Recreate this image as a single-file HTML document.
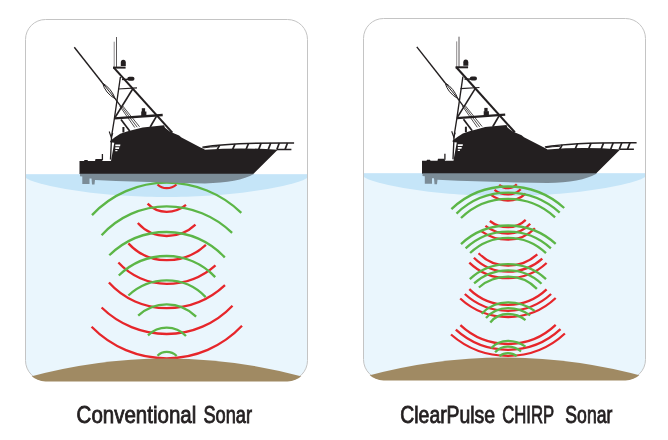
<!DOCTYPE html>
<html><head><meta charset="utf-8"><style>
html,body{margin:0;padding:0;background:#fff;width:668px;height:440px;overflow:hidden;}
.wrap{position:relative;width:668px;height:440px;}
svg{position:absolute;left:0;top:0;will-change:transform;}
</style></head><body><div class="wrap">
<svg width="668" height="440" viewBox="0 0 668 440"><rect width="668" height="440" fill="#fff"/><g><clipPath id="c25"><rect x="25.5" y="19.5" width="282" height="361" rx="20" ry="20"/></clipPath><g clip-path="url(#c25)"><rect x="25" y="174.2" width="283" height="206.8" fill="#eaf6fd"/><path d="M25 174.2 L308 174.2 L308 177.5 L302.95 180.16 L297.89 181.91 L292.84 183.39 L287.79 184.71 L282.73 185.9 L277.68 186.99 L272.62 187.99 L267.57 188.92 L262.52 189.78 L257.46 190.57 L252.41 191.31 L247.36 192 L242.3 192.63 L237.25 193.22 L232.2 193.75 L227.14 194.25 L222.09 194.7 L217.04 195.1 L211.98 195.47 L206.93 195.79 L201.88 196.08 L196.82 196.32 L191.77 196.53 L186.71 196.7 L181.66 196.83 L176.61 196.93 L171.55 196.98 L166.5 197 L161.45 196.98 L156.39 196.93 L151.34 196.83 L146.29 196.7 L141.23 196.53 L136.18 196.32 L131.12 196.08 L126.07 195.79 L121.02 195.47 L115.96 195.1 L110.91 194.7 L105.86 194.25 L100.8 193.75 L95.75 193.22 L90.7 192.63 L85.64 192 L80.59 191.31 L75.54 190.57 L70.48 189.78 L65.43 188.92 L60.38 187.99 L55.32 186.99 L50.27 185.9 L45.21 184.71 L40.16 183.39 L35.11 181.91 L30.05 180.16 L25 177.5 Z" fill="#c5e5f8"/><path d="M157.5 184.5 A13.29 13.29 0 0 0 166.7 188.2 A14.83 14.83 0 0 0 176.5 184.5" stroke="#e6262b" stroke-width="2.3" fill="none"/><path d="M147.6 203.6 A26.34 26.34 0 0 0 166.7 211.8 A30.44 30.44 0 0 0 186 204.9" stroke="#e6262b" stroke-width="2.3" fill="none"/><path d="M137.8 223.1 A38.82 38.82 0 0 0 166.7 236 A42.08 42.08 0 0 0 195.5 224.6" stroke="#e6262b" stroke-width="2.3" fill="none"/><path d="M128.4 243.4 A52.06 52.06 0 0 0 166.7 260.2 A57.59 57.59 0 0 0 205.9 244.8" stroke="#e6262b" stroke-width="2.3" fill="none"/><path d="M118.4 262.5 A65.41 65.41 0 0 0 166.7 283.8 A73.61 73.61 0 0 0 215.5 265.3" stroke="#e6262b" stroke-width="2.3" fill="none"/><path d="M108.9 282.5 A77.85 77.85 0 0 0 166.7 308.2 A85.39 85.39 0 0 0 225 285.2" stroke="#e6262b" stroke-width="2.3" fill="none"/><path d="M101.6 307.5 A93.21 93.21 0 0 0 166.7 334 A90.65 90.65 0 0 0 232.5 305.7" stroke="#e6262b" stroke-width="2.3" fill="none"/><path d="M91.6 326.7 A105.04 105.04 0 0 0 166.7 358.3 A103.48 103.48 0 0 0 242 325.8" stroke="#e6262b" stroke-width="2.3" fill="none"/><path d="M92 215.1 A102.31 102.31 0 0 1 166.7 182.7 A107.24 107.24 0 0 1 241.3 212.9" stroke="#5cb647" stroke-width="2.3" fill="none"/><path d="M101.6 235.2 A87.77 87.77 0 0 1 166.7 206.3 A93.7 93.7 0 0 1 232.1 232.9" stroke="#5cb647" stroke-width="2.3" fill="none"/><path d="M109.3 255.3 A82.35 82.35 0 0 1 166.7 232 A78.94 78.94 0 0 1 224.8 257.5" stroke="#5cb647" stroke-width="2.3" fill="none"/><path d="M118.8 275.5 A68.58 68.58 0 0 1 166.7 256 A66.29 66.29 0 0 1 215.2 277.1" stroke="#5cb647" stroke-width="2.3" fill="none"/><path d="M128.4 295.5 A56.12 56.12 0 0 1 166.7 280.4 A53.89 53.89 0 0 1 205.7 297.1" stroke="#5cb647" stroke-width="2.3" fill="none"/><path d="M138.2 315.7 A41.33 41.33 0 0 1 166.7 304.3 A41.29 41.29 0 0 1 196.1 316.6" stroke="#5cb647" stroke-width="2.3" fill="none"/><path d="M148 335.4 A26.56 26.56 0 0 1 166.7 327.7 A26.59 26.59 0 0 1 186 336" stroke="#5cb647" stroke-width="2.3" fill="none"/><path d="M157.5 355.7 A13.04 13.04 0 0 1 166.7 351.9 A14.25 14.25 0 0 1 176.7 356" stroke="#5cb647" stroke-width="2.3" fill="none"/></g><rect x="25.5" y="19.5" width="282" height="361" rx="20" ry="20" fill="none" stroke="#c4c4c4" stroke-width="1"/><clipPath id="d25"><rect x="25" y="19" width="283" height="362.4" rx="20.5" ry="20.5"/></clipPath><path clip-path="url(#d25)" d="M25 378 Q166 339 308 378 L308 382 L25 382 Z" fill="#a08a63"/><g transform="translate(0 0)"><path fill="#231f20" d="M79.5 174 L79.5 161 L84 161 L84.5 160 L87.5 160 L88 161 L95 161 L95.5 159 L102 159 L102.5 161 L111 161 L111.6 157.4 L114.3 142.7 L110.2 142.3 L110.2 140.9 L114.9 137.3 L120.3 133.7 L127 131.5 L133.7 129.7 L142.7 127.4 L164 125.3 L165 127.8 L169.5 131.3 L172 132.5 L179.1 135.6 L181.5 137.5 L200.5 147.4 L203 148.6 L205 149.8 Q241 147 277.7 149.8 L253.3 174 Z"/><path fill="#fff" d="M115.3 144.5 L120.4 144.5 L120.1 146.2 L115.3 146.2 Z M115.3 147.3 L119.3 147.3 L119 149 L115.3 149 Z M115.3 150 L117.6 150 L117.3 151.3 L115.3 151.3 Z"/><path fill="#7b8c97" d="M80 173.8 L80 176.3 L82.3 176.5 L82.3 184.1 L89.5 184.1 L89.5 178.5 L91.5 178.5 L92 184.5 L94.5 184.5 L95 180 L116 181 L175 182.8 L205 183.4 Q238 183 254.5 173.8 Z"/><line x1="116.5" y1="37" x2="116.5" y2="67.5" stroke="#4a4647" stroke-width="0.9"/><line x1="114.2" y1="41.7" x2="114.2" y2="67.5" stroke="#6a6667" stroke-width="0.75"/><path fill="#231f20" d="M120.8 66 L120.8 62.6 Q120.8 59.7 123.3 59.7 Q125.8 59.7 125.8 62.6 L125.8 66 Z"/><line x1="113" y1="67.6" x2="125.6" y2="67.6" stroke="#231f20" stroke-width="2"/><line x1="113.8" y1="67.6" x2="172.3" y2="132.6" stroke="#231f20" stroke-width="2.1"/><line x1="122" y1="79.4" x2="129" y2="79.4" stroke="#231f20" stroke-width="1.5"/><rect x="127.3" y="76.7" width="7.2" height="4" rx="2" fill="#231f20"/><path d="M120.4 77 L114.1 120.5 L111.6 136 L110.5 159.5" stroke="#231f20" stroke-width="1.35" fill="none"/><path d="M109.2 131.5 L111.3 137.5 L112.8 133" stroke="#231f20" stroke-width="1.1" fill="none"/><line x1="118" y1="89" x2="137" y2="87.8" stroke="#231f20" stroke-width="1.2"/><line x1="133" y1="88.5" x2="115" y2="117.5" stroke="#231f20" stroke-width="1.6"/><line x1="114.4" y1="118.4" x2="162.7" y2="115" stroke="#231f20" stroke-width="2.3"/><rect x="141.8" y="108.2" width="3.3" height="3.8" fill="#231f20"/><rect x="141.2" y="111.5" width="5.2" height="5" fill="#231f20"/><line x1="156.4" y1="116.4" x2="150.2" y2="127" stroke="#231f20" stroke-width="1.7"/><line x1="121" y1="119.5" x2="129.7" y2="131" stroke="#231f20" stroke-width="1.7"/><line x1="74.3" y1="47.2" x2="102.5" y2="83" stroke="#231f20" stroke-width="1.4"/><path d="M102.5 83 L115.3 98.9 M102.5 83 Q111.5 88.6 115.3 98.9 M102.5 83 Q105.2 93 115.3 98.9" stroke="#231f20" stroke-width="1.0" fill="none"/><line x1="115.3" y1="98.9" x2="121" y2="106.7" stroke="#231f20" stroke-width="1.3"/><path d="M119.8 106.2 L134.8 127.6 M121.2 106 L137.2 127.2 M122.6 105.8 L139.6 126.8" stroke="#231f20" stroke-width="0.8" fill="none"/><line x1="123.4" y1="127" x2="123.4" y2="132.5" stroke="#231f20" stroke-width="2"/><line x1="102.4" y1="154" x2="102.4" y2="160" stroke="#231f20" stroke-width="1.3"/><path d="M202.4 147.2 Q230 142.6 294.1 143" stroke="#231f20" stroke-width="1.5" fill="none"/><line x1="217.2" y1="149.6" x2="219.7" y2="145.1" stroke="#231f20" stroke-width="1.7"/><line x1="232.5" y1="149.6" x2="235" y2="144.05" stroke="#231f20" stroke-width="1.7"/><line x1="246" y1="149.6" x2="248.5" y2="143.49" stroke="#231f20" stroke-width="1.7"/><line x1="258.6" y1="149.6" x2="261.1" y2="143.17" stroke="#231f20" stroke-width="1.7"/><line x1="268.2" y1="149.6" x2="270.7" y2="143.03" stroke="#231f20" stroke-width="1.7"/><line x1="276.8" y1="149.6" x2="279.3" y2="142.98" stroke="#231f20" stroke-width="1.7"/><line x1="285" y1="149.6" x2="287.5" y2="142.97" stroke="#231f20" stroke-width="1.7"/><line x1="277" y1="149.6" x2="291.4" y2="149.5" stroke="#231f20" stroke-width="1.5"/><path d="M203.5 147.9 Q210 146.8 217.6 146.6" stroke="#231f20" stroke-width="1.0" fill="none"/></g></g><g><clipPath id="c363"><rect x="363.5" y="18.5" width="282" height="361" rx="20" ry="20"/></clipPath><g clip-path="url(#c363)"><rect x="363" y="173.2" width="283" height="206.8" fill="#eaf6fd"/><path d="M363 173.2 L646 173.2 L646 176.5 L640.95 179.16 L635.89 180.91 L630.84 182.39 L625.79 183.71 L620.73 184.9 L615.68 185.99 L610.62 186.99 L605.57 187.92 L600.52 188.78 L595.46 189.57 L590.41 190.31 L585.36 191 L580.3 191.63 L575.25 192.22 L570.2 192.75 L565.14 193.25 L560.09 193.7 L555.04 194.1 L549.98 194.47 L544.93 194.79 L539.88 195.08 L534.82 195.32 L529.77 195.53 L524.71 195.7 L519.66 195.83 L514.61 195.93 L509.55 195.98 L504.5 196 L499.45 195.98 L494.39 195.93 L489.34 195.83 L484.29 195.7 L479.23 195.53 L474.18 195.32 L469.12 195.08 L464.07 194.79 L459.02 194.47 L453.96 194.1 L448.91 193.7 L443.86 193.25 L438.8 192.75 L433.75 192.22 L428.7 191.63 L423.64 191 L418.59 190.31 L413.54 189.57 L408.48 188.78 L403.43 187.92 L398.38 186.99 L393.32 185.99 L388.27 184.9 L383.21 183.71 L378.16 182.39 L373.11 180.91 L368.05 179.16 L363 176.5 Z" fill="#c5e5f8"/><path d="M499.1 185 A13.98 13.98 0 0 0 508 188.2 A11.88 11.88 0 0 0 516.8 184.3" stroke="#e6262b" stroke-width="2.3" fill="none"/><path d="M494.5 189.8 A22.11 22.11 0 0 0 508 194.4 A18.11 18.11 0 0 0 520.7 189.2" stroke="#e6262b" stroke-width="2.3" fill="none"/><path d="M490.6 194.6 A28.61 28.61 0 0 0 508 200.5 A25.9 25.9 0 0 0 525.6 193.6" stroke="#e6262b" stroke-width="2.3" fill="none"/><path d="M489.8 221 A29.81 29.81 0 0 0 508 227.2 A25.11 25.11 0 0 0 525.7 219.9" stroke="#e6262b" stroke-width="2.3" fill="none"/><path d="M485.4 225.8 A37.02 37.02 0 0 0 508 233.5 A30.04 30.04 0 0 0 530.2 223.7" stroke="#e6262b" stroke-width="2.3" fill="none"/><path d="M481.2 231.1 A46.06 46.06 0 0 0 508 239.7 A37.21 37.21 0 0 0 534.9 228.2" stroke="#e6262b" stroke-width="2.3" fill="none"/><path d="M478.6 253.2 A41.05 41.05 0 0 0 508 265.6 A43.64 43.64 0 0 0 537.3 254.3" stroke="#e6262b" stroke-width="2.3" fill="none"/><path d="M473.9 257.7 A48.53 48.53 0 0 0 508 271.7 A51.45 51.45 0 0 0 542.3 258.6" stroke="#e6262b" stroke-width="2.3" fill="none"/><path d="M469.3 262.6 A55.8 55.8 0 0 0 508 278.2 A56.61 56.61 0 0 0 546.6 263" stroke="#e6262b" stroke-width="2.3" fill="none"/><path d="M469.3 289.1 A55.55 55.55 0 0 0 508 304.8 A56.08 56.08 0 0 0 546.6 289.4" stroke="#e6262b" stroke-width="2.3" fill="none"/><path d="M464.8 294 A63.94 63.94 0 0 0 508 310.8 A63.69 63.69 0 0 0 551.1 294" stroke="#e6262b" stroke-width="2.3" fill="none"/><path d="M460.2 298.5 A71 71 0 0 0 508 317 A69.38 69.38 0 0 0 555.7 298" stroke="#e6262b" stroke-width="2.3" fill="none"/><path d="M460.4 325.2 A69.66 69.66 0 0 0 508 344 A69.11 69.11 0 0 0 555.7 324.9" stroke="#e6262b" stroke-width="2.3" fill="none"/><path d="M455.8 329.7 A77.83 77.83 0 0 0 508 349.8 A77.2 77.2 0 0 0 560.5 329.2" stroke="#e6262b" stroke-width="2.3" fill="none"/><path d="M451 334.5 A86.61 86.61 0 0 0 508 355.9 A83.47 83.47 0 0 0 564.9 333.5" stroke="#e6262b" stroke-width="2.3" fill="none"/><path d="M451.4 209.1 A82.18 82.18 0 0 1 508 186.5 A84.2 84.2 0 0 1 564.2 208" stroke="#5cb647" stroke-width="2.3" fill="none"/><path d="M456.5 213.6 A73.9 73.9 0 0 1 508 192.7 A76.82 76.82 0 0 1 559.7 212.7" stroke="#5cb647" stroke-width="2.3" fill="none"/><path d="M461 218 A67.13 67.13 0 0 1 508 198.8 A69.21 69.21 0 0 1 555.1 217.3" stroke="#5cb647" stroke-width="2.3" fill="none"/><path d="M461 244.1 A68.68 68.68 0 0 1 508 225.5 A71.03 71.03 0 0 1 555.7 243.9" stroke="#5cb647" stroke-width="2.3" fill="none"/><path d="M465.6 248.4 A61.9 61.9 0 0 1 508 231.6 A63.17 63.17 0 0 1 550.9 248.4" stroke="#5cb647" stroke-width="2.3" fill="none"/><path d="M470.1 253 A54.85 54.85 0 0 1 508 237.8 A54.58 54.58 0 0 1 546 253.2" stroke="#5cb647" stroke-width="2.3" fill="none"/><path d="M469.8 279.2 A56.14 56.14 0 0 1 508 264.2 A55.63 55.63 0 0 1 546 279.2" stroke="#5cb647" stroke-width="2.3" fill="none"/><path d="M474.1 283.4 A50.41 50.41 0 0 1 508 270.3 A48.44 48.44 0 0 1 541.5 283.75" stroke="#5cb647" stroke-width="2.3" fill="none"/><path d="M478.9 287.5 A44.6 44.6 0 0 1 508 276.7 A40.33 40.33 0 0 1 536.9 288.9" stroke="#5cb647" stroke-width="2.3" fill="none"/><path d="M481.6 313.8 A36.27 36.27 0 0 1 508 302.4 A46.18 46.18 0 0 1 534.7 310.9" stroke="#5cb647" stroke-width="2.3" fill="none"/><path d="M486 318.1 A29.39 29.39 0 0 1 508 308.2 A37.83 37.83 0 0 1 530.2 315.4" stroke="#5cb647" stroke-width="2.3" fill="none"/><path d="M490.3 322.4 A22.85 22.85 0 0 1 508 314 A28.15 28.15 0 0 1 525.5 320.1" stroke="#5cb647" stroke-width="2.3" fill="none"/><path d="M491.1 348.3 A23 23 0 0 1 508 340.9 A29.3 29.3 0 0 1 525.5 346.7" stroke="#5cb647" stroke-width="2.3" fill="none"/><path d="M495.1 352.3 A17.66 17.66 0 0 1 508 346.7 A20 20 0 0 1 521 351.5" stroke="#5cb647" stroke-width="2.3" fill="none"/><path d="M499.4 356.2 A13.83 13.83 0 0 1 508 353.2 A14.12 14.12 0 0 1 516.7 356.2" stroke="#5cb647" stroke-width="2.3" fill="none"/></g><rect x="363.5" y="18.5" width="282" height="361" rx="20" ry="20" fill="none" stroke="#c4c4c4" stroke-width="1"/><clipPath id="d363"><rect x="363" y="18" width="283" height="362.4" rx="20.5" ry="20.5"/></clipPath><path clip-path="url(#d363)" d="M363 377 Q504 338 646 377 L646 381 L363 381 Z" fill="#a08a63"/><g transform="translate(342.5 -0.3)"><path fill="#231f20" d="M79.5 174 L79.5 161 L84 161 L84.5 160 L87.5 160 L88 161 L95 161 L95.5 159 L102 159 L102.5 161 L111 161 L111.6 157.4 L114.3 142.7 L110.2 142.3 L110.2 140.9 L114.9 137.3 L120.3 133.7 L127 131.5 L133.7 129.7 L142.7 127.4 L164 125.3 L165 127.8 L169.5 131.3 L172 132.5 L179.1 135.6 L181.5 137.5 L200.5 147.4 L203 148.6 L205 149.8 Q241 147 277.7 149.8 L253.3 174 Z"/><path fill="#fff" d="M115.3 144.5 L120.4 144.5 L120.1 146.2 L115.3 146.2 Z M115.3 147.3 L119.3 147.3 L119 149 L115.3 149 Z M115.3 150 L117.6 150 L117.3 151.3 L115.3 151.3 Z"/><path fill="#7b8c97" d="M80 173.8 L80 176.3 L82.3 176.5 L82.3 184.1 L89.5 184.1 L89.5 178.5 L91.5 178.5 L92 184.5 L94.5 184.5 L95 180 L116 181 L175 182.8 L205 183.4 Q238 183 254.5 173.8 Z"/><line x1="116.5" y1="37" x2="116.5" y2="67.5" stroke="#4a4647" stroke-width="0.9"/><line x1="114.2" y1="41.7" x2="114.2" y2="67.5" stroke="#6a6667" stroke-width="0.75"/><path fill="#231f20" d="M120.8 66 L120.8 62.6 Q120.8 59.7 123.3 59.7 Q125.8 59.7 125.8 62.6 L125.8 66 Z"/><line x1="113" y1="67.6" x2="125.6" y2="67.6" stroke="#231f20" stroke-width="2"/><line x1="113.8" y1="67.6" x2="172.3" y2="132.6" stroke="#231f20" stroke-width="2.1"/><line x1="122" y1="79.4" x2="129" y2="79.4" stroke="#231f20" stroke-width="1.5"/><rect x="127.3" y="76.7" width="7.2" height="4" rx="2" fill="#231f20"/><path d="M120.4 77 L114.1 120.5 L111.6 136 L110.5 159.5" stroke="#231f20" stroke-width="1.35" fill="none"/><path d="M109.2 131.5 L111.3 137.5 L112.8 133" stroke="#231f20" stroke-width="1.1" fill="none"/><line x1="118" y1="89" x2="137" y2="87.8" stroke="#231f20" stroke-width="1.2"/><line x1="133" y1="88.5" x2="115" y2="117.5" stroke="#231f20" stroke-width="1.6"/><line x1="114.4" y1="118.4" x2="162.7" y2="115" stroke="#231f20" stroke-width="2.3"/><rect x="141.8" y="108.2" width="3.3" height="3.8" fill="#231f20"/><rect x="141.2" y="111.5" width="5.2" height="5" fill="#231f20"/><line x1="156.4" y1="116.4" x2="150.2" y2="127" stroke="#231f20" stroke-width="1.7"/><line x1="121" y1="119.5" x2="129.7" y2="131" stroke="#231f20" stroke-width="1.7"/><line x1="74.3" y1="47.2" x2="102.5" y2="83" stroke="#231f20" stroke-width="1.4"/><path d="M102.5 83 L115.3 98.9 M102.5 83 Q111.5 88.6 115.3 98.9 M102.5 83 Q105.2 93 115.3 98.9" stroke="#231f20" stroke-width="1.0" fill="none"/><line x1="115.3" y1="98.9" x2="121" y2="106.7" stroke="#231f20" stroke-width="1.3"/><path d="M119.8 106.2 L134.8 127.6 M121.2 106 L137.2 127.2 M122.6 105.8 L139.6 126.8" stroke="#231f20" stroke-width="0.8" fill="none"/><line x1="123.4" y1="127" x2="123.4" y2="132.5" stroke="#231f20" stroke-width="2"/><line x1="102.4" y1="154" x2="102.4" y2="160" stroke="#231f20" stroke-width="1.3"/><path d="M202.4 147.2 Q230 142.6 294.1 143" stroke="#231f20" stroke-width="1.5" fill="none"/><line x1="217.2" y1="149.6" x2="219.7" y2="145.1" stroke="#231f20" stroke-width="1.7"/><line x1="232.5" y1="149.6" x2="235" y2="144.05" stroke="#231f20" stroke-width="1.7"/><line x1="246" y1="149.6" x2="248.5" y2="143.49" stroke="#231f20" stroke-width="1.7"/><line x1="258.6" y1="149.6" x2="261.1" y2="143.17" stroke="#231f20" stroke-width="1.7"/><line x1="268.2" y1="149.6" x2="270.7" y2="143.03" stroke="#231f20" stroke-width="1.7"/><line x1="276.8" y1="149.6" x2="279.3" y2="142.98" stroke="#231f20" stroke-width="1.7"/><line x1="285" y1="149.6" x2="287.5" y2="142.97" stroke="#231f20" stroke-width="1.7"/><line x1="277" y1="149.6" x2="291.4" y2="149.5" stroke="#231f20" stroke-width="1.5"/><path d="M203.5 147.9 Q210 146.8 217.6 146.6" stroke="#231f20" stroke-width="1.0" fill="none"/></g></g><text transform="translate(76.58 423.3) scale(0.873 1)" font-family="Liberation Sans, sans-serif" font-size="23.5" fill="#231f20" stroke="#231f20" stroke-width="0.85">Conventional</text><text transform="translate(203.43 423.3) scale(0.776 1)" font-family="Liberation Sans, sans-serif" font-size="23.5" fill="#231f20" stroke="#231f20" stroke-width="0.85">Sonar</text><text transform="translate(400.31 423.3) scale(0.825 1)" font-family="Liberation Sans, sans-serif" font-size="23.5" fill="#231f20" stroke="#231f20" stroke-width="0.85">ClearPulse</text><text transform="translate(502.17 423.3) scale(0.711 1)" font-family="Liberation Sans, sans-serif" font-size="23.5" fill="#231f20" stroke="#231f20" stroke-width="0.85">CHIRP</text><text transform="translate(565.35 423.3) scale(0.75 1)" font-family="Liberation Sans, sans-serif" font-size="23.5" fill="#231f20" stroke="#231f20" stroke-width="0.85">Sonar</text></svg>
</div></body></html>
